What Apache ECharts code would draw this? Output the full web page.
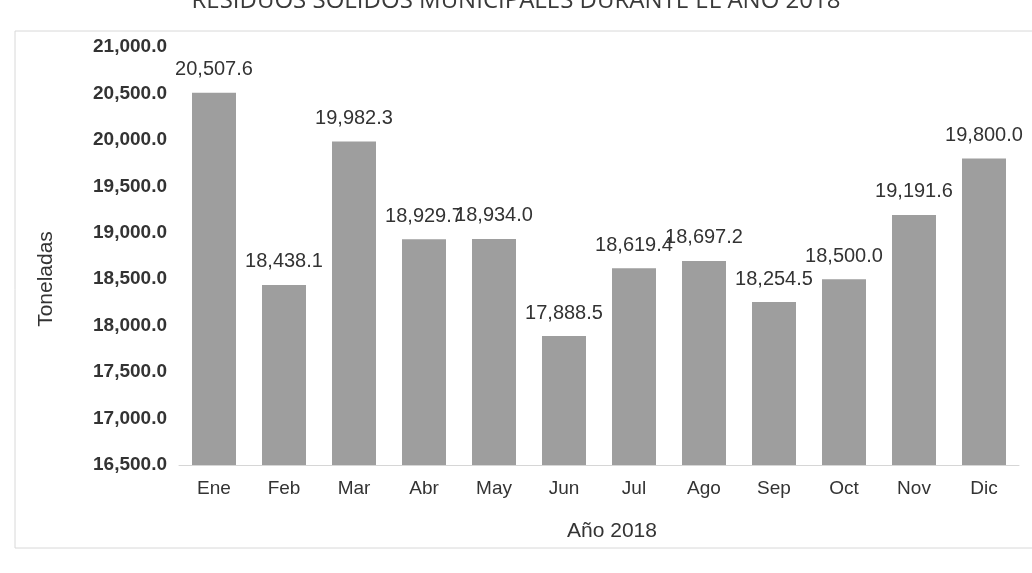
<!DOCTYPE html>
<html><head><meta charset="utf-8">
<script src="https://cdn.jsdelivr.net/npm/echarts@6/dist/echarts.min.js"></script>
<style>html,body{margin:0;padding:0;background:#fff}#c{width:1032px;height:573px}</style>
</head><body><div id="c"></div>
<script>
const titleText = "RESIDUOS SÓLIDOS MUNICIPALES DURANTE EL AÑO 2018";
const categories = ["Ene","Feb","Mar","Abr","May","Jun","Jul","Ago","Sep","Oct","Nov","Dic"];
const values = [20507.6,18438.1,19982.3,18929.7,18934.0,17888.5,18619.4,18697.2,18254.5,18500.0,19191.6,19800.0];
const yMin = 16500, yMax = 21000, yStep = 500;
const yName = "Toneladas", xName = "Año 2018";

function fmt(v){return v.toLocaleString('en-US',{minimumFractionDigits:1,maximumFractionDigits:1});}

const chart = echarts.init(document.getElementById('c'));
chart.setOption({
  animation:false,
  backgroundColor:'#fff',
  title:{text:titleText,left:'center',top:-16,textStyle:{fontFamily:'Open Sans',fontWeight:'normal',fontSize:24,color:'#3a3a3a'}},
  graphic:[{type:'rect',shape:{x:15,y:31,width:1040,height:517},style:{fill:'none',stroke:'#d8d8d8',lineWidth:1},silent:true}],
  grid:{left:179,right:13,top:47,bottom:108},
  xAxis:{type:'category',data:categories,
    axisLine:{show:true,lineStyle:{color:'#d6d6d6'}},axisTick:{show:false},
    axisLabel:{fontFamily:'Liberation Sans',fontSize:19,color:'#333',margin:14},
    name:xName,nameLocation:'middle',nameGap:56,
    nameTextStyle:{fontFamily:'Liberation Sans',fontSize:21,color:'#333',padding:[0,0,0,26]}},
  yAxis:{type:'value',min:yMin,max:yMax,interval:yStep,
    axisLine:{show:false},axisTick:{show:false},splitLine:{show:false},
    axisLabel:{fontFamily:'Liberation Sans',fontSize:19,fontWeight:'bold',color:'#333',margin:12,formatter:v=>fmt(v)},
    name:yName,nameLocation:'middle',nameGap:122,nameRotate:90,
    nameTextStyle:{fontFamily:'Liberation Sans',fontSize:21,color:'#333',padding:[0,0,0,-46]}},
  series:[{type:'bar',data:values,barWidth:44,
    itemStyle:{color:'#9e9e9e'},
    label:{show:true,position:'top',distance:13,fontFamily:'Liberation Sans',fontSize:20,color:'#333',formatter:p=>fmt(p.value)}}]
});
</script></body></html>
